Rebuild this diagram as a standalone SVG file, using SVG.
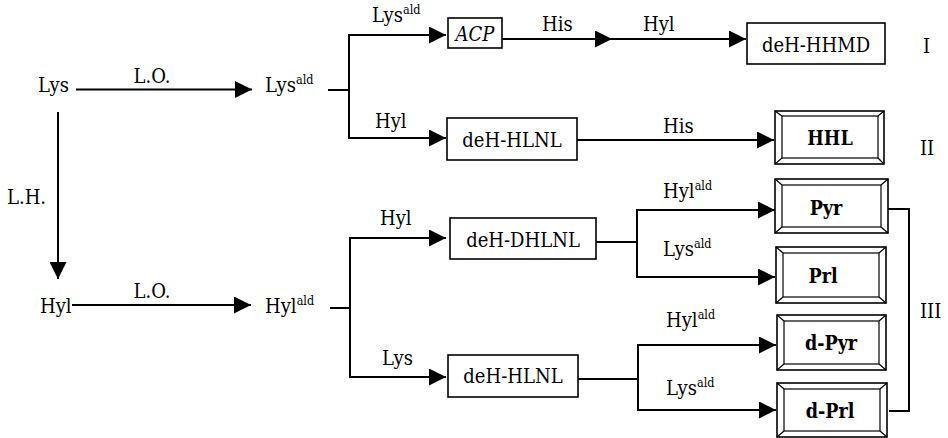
<svg xmlns="http://www.w3.org/2000/svg" width="948" height="438" viewBox="0 0 948 438">
<style>
text{font-family:"DejaVu Serif Condensed","Liberation Serif",serif;font-size:20px;fill:#000}
.sup{font-size:12.5px}
.b{font-weight:bold;font-size:19.5px}
.i{font-style:italic}
.m{text-anchor:middle}
.box{fill:#fff;stroke:#000;stroke-width:1.6}
.inner{fill:none;stroke:#000;stroke-width:1.2}
.c line,.c polyline{stroke:#000;stroke-width:2;fill:none}
</style>
<defs>
<marker id="ah" markerUnits="userSpaceOnUse" markerWidth="17" markerHeight="17" refX="17" refY="8.5" orient="auto" viewBox="0 0 17 17">
<path d="M0,0 L17,8.5 L0,17 z" fill="#000"/>
</marker>
</defs>
<rect width="948" height="438" fill="#fff"/>
<g id="connectors" class="c">
<line x1="76" y1="89.5" x2="252" y2="89.5" marker-end="url(#ah)"/>
<line x1="58" y1="112" x2="58" y2="279" marker-end="url(#ah)"/>
<line x1="72" y1="305" x2="251" y2="305" marker-end="url(#ah)"/>
<line x1="328" y1="90" x2="349" y2="90"/>
<polyline points="446,35 349,35 349,138 446,138"/>
<line x1="349" y1="35" x2="446" y2="35" marker-end="url(#ah)"/>
<line x1="349" y1="138" x2="446" y2="138" marker-end="url(#ah)"/>
<line x1="502" y1="39" x2="612" y2="39" marker-end="url(#ah)"/>
<line x1="612" y1="39" x2="746" y2="39" marker-end="url(#ah)"/>
<line x1="577" y1="140" x2="774" y2="140" marker-end="url(#ah)"/>
<line x1="330" y1="308" x2="350" y2="308"/>
<polyline points="446,238 350,238 350,377 446,377"/>
<line x1="350" y1="238" x2="446" y2="238" marker-end="url(#ah)"/>
<line x1="350" y1="377" x2="446" y2="377" marker-end="url(#ah)"/>
<line x1="596" y1="242" x2="637" y2="242"/>
<polyline points="775,210 637,210 637,277 775,277"/>
<line x1="637" y1="210" x2="775" y2="210" marker-end="url(#ah)"/>
<line x1="637" y1="277" x2="775" y2="277" marker-end="url(#ah)"/>
<line x1="578" y1="379" x2="638" y2="379"/>
<polyline points="776,345 638,345 638,410 776,410"/>
<line x1="638" y1="345" x2="776" y2="345" marker-end="url(#ah)"/>
<line x1="638" y1="410" x2="776" y2="410" marker-end="url(#ah)"/>
<polyline points="888,209 909,209 909,411 889,411"/>
</g>
<g id="labels">
<text x="152" y="83" class="m">L.O.</text>
<text x="152" y="298" class="m">L.O.</text>
<text x="7" y="204">L.H.</text>
<text x="372" y="22">Lys<tspan class="sup" dy="-8">ald</tspan></text>
<text x="375" y="128">Hyl</text>
<text x="542" y="31">His</text>
<text x="643" y="31">Hyl</text>
<text x="663" y="133">His</text>
<text x="380" y="225">Hyl</text>
<text x="382" y="365">Lys</text>
<text x="663" y="198">Hyl<tspan class="sup" dy="-8">ald</tspan></text>
<text x="663" y="256">Lys<tspan class="sup" dy="-8">ald</tspan></text>
<text x="666" y="327">Hyl<tspan class="sup" dy="-8">ald</tspan></text>
<text x="666" y="395">Lys<tspan class="sup" dy="-8">ald</tspan></text>
<text x="923" y="53">I</text>
<text x="920" y="155">II</text>
<text x="920" y="318">III</text>
</g>
<g id="lys"><text x="38" y="92">Lys</text></g>
<g id="lys-ald"><text x="265" y="92">Lys<tspan class="sup" dy="-8">ald</tspan></text></g>
<g id="hyl"><text x="40" y="313">Hyl</text></g>
<g id="hyl-ald"><text x="265" y="313">Hyl<tspan class="sup" dy="-8">ald</tspan></text></g>
<g id="acp"><rect class="box" x="448" y="18" width="54" height="30"/><text x="475" y="41" class="m i">ACP</text></g>
<g id="dehhhmd"><rect class="box" x="747" y="23" width="138" height="41"/><text x="816" y="52" class="m">deH-HHMD</text></g>
<g id="dehhlnl1"><rect class="box" x="447" y="118" width="130" height="42"/><text x="512" y="147" class="m">deH-HLNL</text></g>
<g id="hhl">
<rect class="box" x="775" y="111" width="109" height="53"/>
<rect class="inner" x="782" y="116" width="96" height="42"/>
<path class="inner" d="M775,111 L782,116 M884,111 L878,116 M775,164 L782,158 M884,164 L878,158"/>
<text x="830" y="145" class="m b">HHL</text>
</g>
<g id="dehdhlnl"><rect class="box" x="450" y="218" width="146" height="41"/><text x="523" y="247" class="m">deH-DHLNL</text></g>
<g id="dehhlnl2"><rect class="box" x="448" y="355" width="130" height="42"/><text x="513" y="383" class="m">deH-HLNL</text></g>
<g id="pyr">
<rect class="box" x="775" y="179" width="113" height="54"/>
<rect class="inner" x="782" y="185" width="99" height="42"/>
<path class="inner" d="M775,179 L782,185 M888,179 L881,185 M775,233 L782,227 M888,233 L881,227"/>
<text x="826" y="215" class="m b">Pyr</text>
</g>
<g id="prl">
<rect class="box" x="776" y="247" width="110" height="56"/>
<rect class="inner" x="783" y="253" width="96" height="44"/>
<path class="inner" d="M776,247 L783,253 M886,247 L879,253 M776,303 L783,297 M886,303 L879,297"/>
<text x="823" y="283" class="m b">Prl</text>
</g>
<g id="dpyr">
<rect class="box" x="777" y="315" width="109" height="55"/>
<rect class="inner" x="784" y="321" width="95" height="43"/>
<path class="inner" d="M777,315 L784,321 M886,315 L879,321 M777,370 L784,364 M886,370 L879,364"/>
<text x="831" y="350" class="m b">d-Pyr</text>
</g>
<g id="dprl">
<rect class="box" x="777" y="383" width="110" height="54"/>
<rect class="inner" x="784" y="389" width="96" height="42"/>
<path class="inner" d="M777,383 L784,389 M887,383 L880,389 M777,437 L784,431 M887,437 L880,431"/>
<text x="830" y="418" class="m b">d-Prl</text>
</g>
</svg>
